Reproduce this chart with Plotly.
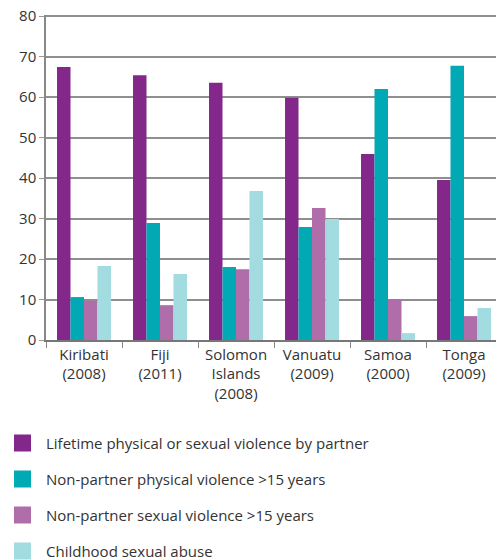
import plotly.graph_objects as go

categories = ["Kiribati<br>(2008)", "Fiji<br>(2011)", "Solomon<br>Islands<br>(2008)",
              "Vanuatu<br>(2009)", "Samoa<br>(2000)", "Tonga<br>(2009)"]
series_names = ["Lifetime physical or sexual violence by partner",
                "Non-partner physical violence >15 years",
                "Non-partner sexual violence >15 years",
                "Childhood sexual abuse"]
lifetime_partner = [67.4, 65.4, 63.5, 59.8, 45.9, 39.5]
nonpartner_physical = [10.6, 28.9, 18.0, 27.9, 62.0, 67.7]
nonpartner_sexual = [9.7, 8.6, 17.5, 32.6, 10.1, 5.9]
childhood_abuse = [18.3, 16.3, 36.8, 29.9, 1.7, 7.9]
colors = ["#83288A", "#00A9B4", "#AF6EAA", "#A2DBE0"]
y_ticks = [0, 10, 20, 30, 40, 50, 60, 70, 80]

values = [lifetime_partner, nonpartner_physical, nonpartner_sexual, childhood_abuse]

FONT = "Open Sans"
TXT = "#333333"

fig = go.Figure()
for name, vals, col in zip(series_names, values, colors):
    fig.add_trace(go.Bar(x=categories, y=vals, name=name, marker_color=col,
                         marker_line_width=0, showlegend=False))

# page body has an 8px margin: figure sized to the remaining area
OFF = 8
W, H = 504 - OFF, 560 - OFF
ml, mr, mt, mb = 46 - OFF, 2, 15 - OFF, 220
pw = W - ml - mr
ph = H - mt - mb

shapes = []
annotations = []
leg_y_px = [443, 479, 515, 551]  # screenshot pixel rows
for name, col, py in zip(series_names, colors, leg_y_px):
    fy = py - OFF
    bottom = H - mb
    shapes.append(dict(type="rect", xref="paper", yref="paper",
                       x0=(14 - OFF - ml) / pw, x1=(31 - OFF - ml) / pw,
                       y0=(bottom - (fy + 8.5)) / ph, y1=(bottom - (fy - 8.5)) / ph,
                       fillcolor=col, line_width=0))
    annotations.append(dict(xref="paper", yref="paper",
                            x=(44 - OFF - ml) / pw, y=(bottom - fy) / ph,
                            text=name, showarrow=False, xanchor="left", yanchor="middle",
                            font=dict(family=FONT, size=15, color=TXT)))

fig.update_layout(
    width=W, height=H,
    margin=dict(l=ml, r=mr, t=mt, b=mb, autoexpand=False),
    paper_bgcolor="white", plot_bgcolor="white",
    barmode="group", bargap=0.29, bargroupgap=0,
    font=dict(family=FONT, size=15, color=TXT),
    shapes=shapes, annotations=annotations,
    xaxis=dict(type="category", tickson="boundaries", ticks="outside", ticklen=6,
               tickcolor="#888888", showline=True, linecolor="#777777", linewidth=1.5,
               showgrid=False, automargin=False,
               tickfont=dict(family=FONT, size=15, color=TXT)),
    yaxis=dict(range=[0, 80.25], tickvals=y_ticks, ticks="outside", ticklen=5,
               tickcolor="#999999", showline=True, linecolor="#888888", linewidth=1.5,
               showgrid=True, gridcolor="#8f8f8f", gridwidth=1.5, zeroline=False,
               automargin=False, ticklabeloverflow="allow",
               tickfont=dict(family=FONT, size=15, color=TXT)),
)

fig.write_html("out.html")
